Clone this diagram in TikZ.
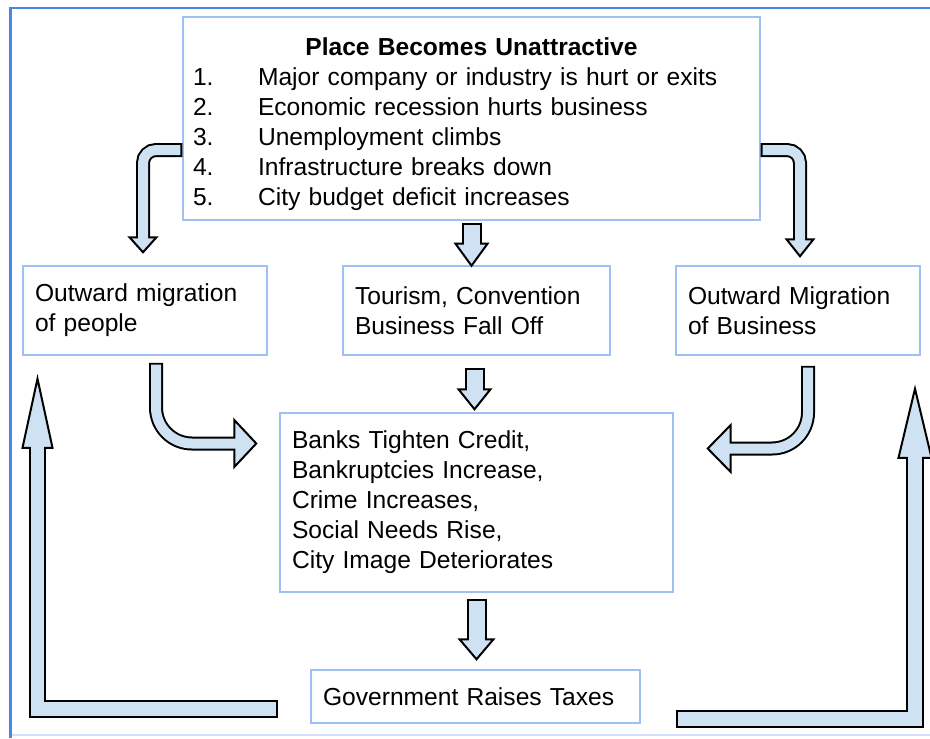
\documentclass[tikz,border=0pt]{standalone}
\usepackage{fontspec}
\setmainfont{Liberation Sans}
\usetikzlibrary{calc}
\definecolor{framebl}{HTML}{4A86E8}
\definecolor{boxbl}{HTML}{9FC0F2}
\definecolor{arrowbl}{HTML}{CFE2F3}
\def\blockarrow[#1:#2:#3]#4#5#6{\draw[line width=#1+0.08cm, #3, line join=miter] #4 -- (#5);
	\draw[fill=arrowbl, line width=0.04cm, line join=miter] ($(#5)!#2!90:(#6)$) -- (#6) -- ($(#5)!#2!-90:(#6)$) -- cycle;
	\draw[line width=#1, color=arrowbl, #3, line join=miter, shorten <=0.04cm] #4 -- ($(#5)!0.06cm!(#6)$);}
\tikzset{box/.style={draw=boxbl, line width=0.03cm, inner xsep=0.24cm, inner ysep=0pt, align=left, font=\fontsize{14.0}{17.07}\selectfont}}

\begin{document}
\begin{tikzpicture}[x=0.02cm, y=-0.02cm]
			%%%%% START %%%%%
			\useasboundingbox (0, 0) rectangle (930, 738);
			\draw[framebl!25, line width=0.03cm] (10, 735) -- (930, 735);
			\draw[framebl, line width=0.05cm] (10.5, 738) -- (10.5, 8) -- (930, 8);
			
			\node[box, inner xsep=0.2cm, text width=11.14cm, minimum height=4.06cm] (top) at (471.5, 118.5) {\rule{0pt}{0.57cm}\makebox[11.14cm]{\bfseries Place Becomes Unattractive}\\
				\makebox[1.3cm][l]{1.}Major company or industry is hurt or exits\\
				\makebox[1.3cm][l]{2.}Economic recession hurts business\\
				\makebox[1.3cm][l]{3.}Unemployment climbs\\
				\makebox[1.3cm][l]{4.}Infrastructure breaks down\\
				\makebox[1.3cm][l]{5.}City budget deficit increases};
			
			\node[box, text width=4.40cm, minimum height=1.78cm] (people) at (145, 310.5) {Outward migration\\ of people};
			\node[box, text width=4.86cm, minimum height=1.78cm] (tourism) at (476.5, 310.5) {Tourism, Convention\\ Business Fall Off};
			\node[box, text width=4.40cm, minimum height=1.78cm] (business) at (798, 310.5) {Outward Migration\\ of Business};
			\node[box, text width=7.38cm, minimum height=3.58cm] (banks) at (476.5, 502.5) {Banks Tighten Credit,\\ Bankruptcies Increase,\\ Crime Increases,\\ Social Needs Rise,\\ City Image Deteriorates};
			\node[box, text width=6.10cm, minimum height=1.06cm] (taxes) at (475.5, 696.5) {Government Raises Taxes};
			
			% top box to the three boxes below
			\coordinate (ps) at ($(top.west)+(0, 31.5)$);
			\coordinate (pb) at ($(people.north)+(-2, -28)$);
			\coordinate (pt) at ($(people.north)+(-2, -13)$);
			\blockarrow[0.2cm:0.27cm:rounded corners=0.26cm]{(ps) -- (ps -| pb)}{pb}{pt}
			\coordinate (bs) at ($(top.east)+(0, 31.5)$);
			\coordinate (bb) at ($(business.north)+(2, -26)$);
			\coordinate (bt) at ($(business.north)+(2, -9)$);
			\blockarrow[0.2cm:0.27cm:rounded corners=0.26cm]{(bs) -- (bs -| bb)}{bb}{bt}
			\coordinate (ts) at ($(top.south)+(0, 2)$);
			\coordinate (tb) at ($(top.south)+(0, 23)$);
			\coordinate (tt) at ($(top.south)+(0, 45)$);
			\blockarrow[0.32cm:0.32cm:sharp corners]{(ts)}{tb}{tt}
			
			% into the middle box
			\coordinate (ms) at ($(tourism.south)+(-2, 12)$);
			\coordinate (mb) at ($(banks.north)+(-2, -23)$);
			\coordinate (mt) at ($(banks.north)+(-2, -3)$);
			\blockarrow[0.32cm:0.32cm:sharp corners]{(ms)}{mb}{mt}
			\coordinate (ls) at ($(people.south)+(11, 7)$);
			\coordinate (lb) at ($(banks.west)+(-45, -59)$);
			\coordinate (lt) at ($(banks.west)+(-23, -59)$);
			\blockarrow[0.2cm:0.47cm:rounded corners=0.72cm]{(ls) -- (ls |- lb)}{lb}{lt}
			\coordinate (rs) at ($(business.south)+(10, 10)$);
			\coordinate (rb) at ($(banks.east)+(57, -54)$);
			\coordinate (rt) at ($(banks.east)+(34, -54)$);
			\blockarrow[0.2cm:0.47cm:rounded corners=0.72cm]{(rs) -- (rs |- rb)}{rb}{rt}
			
			% down to taxes and back up
			\coordinate (ds) at ($(banks.south)+(0, 6)$);
			\coordinate (db) at ($(taxes.north)+(1, -30)$);
			\coordinate (dt) at ($(taxes.north)+(1, -10)$);
			\blockarrow[0.32cm:0.34cm:sharp corners]{(ds)}{db}{dt}
			\coordinate (xs) at ($(taxes.west)+(-32, 12)$);
			\coordinate (xb) at ($(people.south)+(-107.5, 92)$);
			\coordinate (xt) at ($(people.south)+(-107.5, 23)$);
			\blockarrow[0.28cm:0.3cm:sharp corners]{(xs) -- (xs -| xb)}{xb}{xt}
			\coordinate (ys) at ($(taxes.east)+(35, 22.5)$);
			\coordinate (yb) at ($(business.south)+(117, 102)$);
			\coordinate (yt) at ($(business.south)+(117, 33)$);
			\blockarrow[0.28cm:0.33cm:sharp corners]{(ys) -- (ys -| yb)}{yb}{yt}
			%%%%% END %%%%%
\end{tikzpicture}
\end{document}
